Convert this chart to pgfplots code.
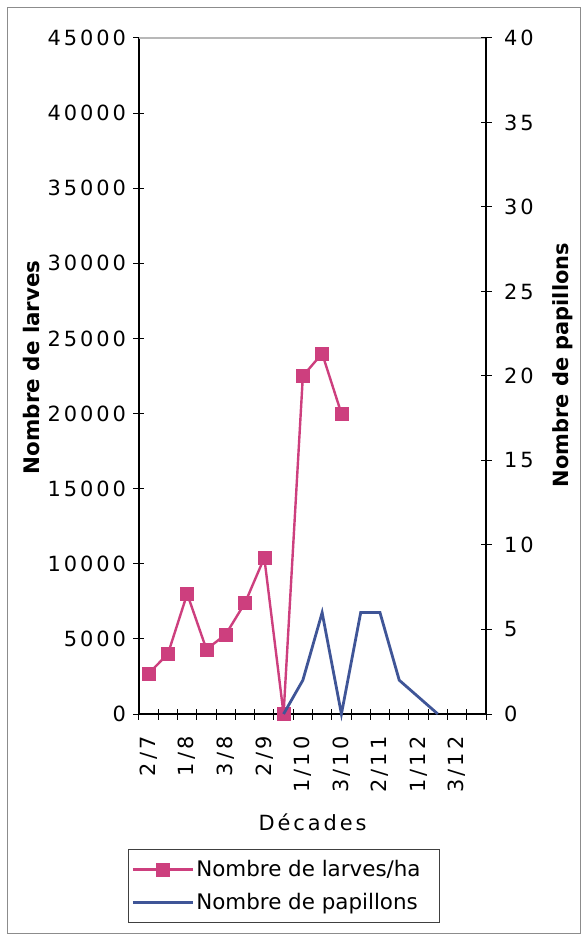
\documentclass[border=0pt]{standalone}
\usepackage{pgfplots}
\pgfplotsset{compat=1.18}
\usepackage{fontspec}
\setmainfont{DejaVu Sans}
\newfontfamily\tickfont{DejaVu Sans}[LetterSpace=14]
\definecolor{pinkc}{HTML}{CD3F7E}
\definecolor{bluec}{HTML}{3F5597}
\pgfplotstableread{
x y
0 2700
1 4000
2 8000
3 4300
4 5300
5 7400
6 10400
7 0
8 22500
9 24000
10 20000
}\larves
\pgfplotstableread{
x y
7 0
8 2
9 6
10 0
11 6
12 6
13 2
14 1
15 0
}\papillons
\begin{document}
\begin{tikzpicture}
\path[use as bounding box] (-139bp,-222bp) rectangle (444bp,714bp);
\pgfplotsset{
  common/.style={
    at={(0,0)}, anchor=south west,
    scale only axis, width=347bp, height=676bp,
    xmin=-0.5, xmax=17.5, ymin=0,
    clip=false,
    tick align=center,
    major tick length=11bp,
    every tick/.style={black, line width=1bp},
    axis line style={black, line width=1.3bp},
    tick label style={font=\tickfont\fontsize{21}{24}\selectfont},
    scaled y ticks=false,
    /pgf/number format/assume math mode=true,
    /pgf/number format/1000 sep={},
  }
}
\begin{axis}[common,
  ymax=45000,
  axis y line*=left, axis x line*=bottom,
  ytick={0,5000,...,45000},
  yticklabel style={xshift=-4bp},
  xtick={-0.5,0.5,...,17.5},
  xticklabels={},
  xticklabel style={yshift=-19bp, rotate=90, anchor=east},
  extra x ticks={0,2,...,16},
  extra x tick labels={2/7,1/8,3/8,2/9,1/10,3/10,2/11,1/12,3/12},
  extra x tick style={major tick length=0pt},
  every axis y label/.style={at={(axis description cs:-0.31,0.513)}, anchor=center, rotate=90,
    font=\bfseries\fontsize{21.5}{25}\selectfont},
  ylabel={Nombre de larves},
  every axis x label/.style={at={(axis description cs:0.5,-0.16)}, anchor=center,
    font=\tickfont\fontsize{21}{24}\selectfont},
  xlabel={Décades},
  legend style={at={(axis description cs:-0.0317,-0.1997)}, anchor=north west,
    draw=black!75, line width=1bp, inner xsep=3bp, inner ysep=9bp,
    font=\fontsize{21.5}{26}\selectfont, row sep=11bp,
    nodes={inner sep=2bp}},
  legend cell align=left,
  legend image code/.code={\draw[mark repeat=2,mark phase=2,#1] plot coordinates {(0bp,0bp) (30bp,0bp) (60bp,0bp)};},
]
\draw[color=black!28, line width=2bp] (rel axis cs:0,1) -- (rel axis cs:1,1);
\addplot[pinkc, line width=2.4bp, mark=square*, mark size=6.5bp, mark options={fill=pinkc, draw=pinkc, line width=0.5bp}] table[x=x,y=y] {\larves};
\addlegendentry{Nombre de larves/ha\hspace*{14bp}}
\addlegendimage{bluec, line width=2.8bp}
\addlegendentry{Nombre de papillons}
\end{axis}
\begin{axis}[common,
  ymax=40,
  axis y line*=right, axis x line=none,
  ytick={0,5,...,40},
  yticklabel style={xshift=9bp},
  every axis y label/.style={at={(axis description cs:1.222,0.516)}, anchor=center, rotate=90,
    font=\bfseries\fontsize{21}{25}\selectfont},
  ylabel={Nombre de papillons},
]
\addplot[bluec, line width=2.8bp, mark=none] table[x=x,y=y] {\papillons};
\end{axis}
\draw[black!45, line width=1bp] (-131bp,-219bp) rectangle (441bp,706bp);
\end{tikzpicture}
\end{document}
